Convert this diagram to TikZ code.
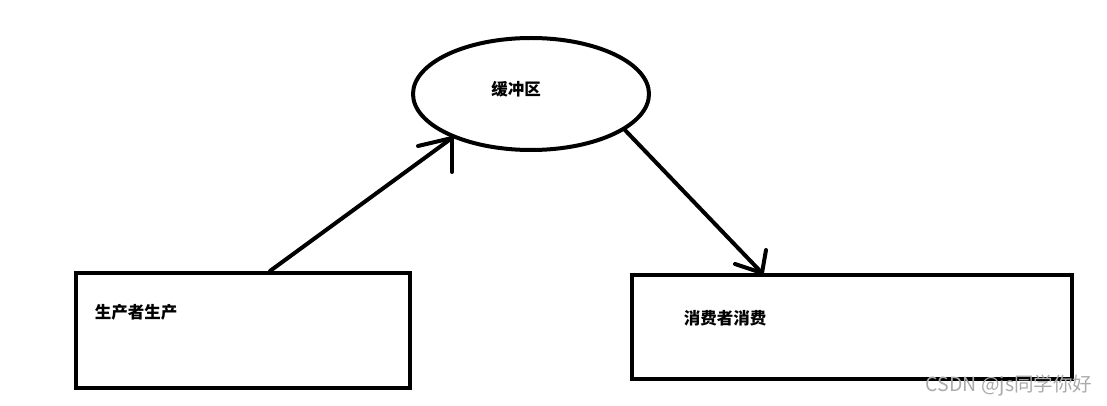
\documentclass[tikz,border=0pt]{standalone}
\usepackage{fontspec}
\usetikzlibrary{shapes.geometric}
\newfontfamily\cjk{Noto Sans CJK SC}
\definecolor{wmgray}{RGB}{170,170,170}
\begin{document}
\begin{tikzpicture}[x=1pt,y=-1pt,
  box/.style={draw=black,line width=4.5pt,rectangle,inner sep=0pt},
  oval/.style={draw=black,line width=4pt,ellipse,inner sep=0pt,minimum width=236pt,minimum height=112pt},
  lbl/.style={font=\cjk\bfseries\fontsize{16.5}{17}\selectfont,inner sep=0pt},
  conn/.style={draw=black,line width=4pt,line cap=round},
  wm/.style={font=\cjk\fontsize{19.5}{20}\selectfont,text=wmgray,inner sep=0pt}]
\useasboundingbox (0,0) rectangle (1107,406);
\node[oval] (buf) at (531,94) {};
\node[lbl] (buft) at (516,89) {缓冲区};
\node[box,minimum width=334pt,minimum height=115pt] (prod) at (243,330.5) {};
\node[lbl] (prodt) at (136,312) {生产者生产};
\node[box,minimum width=440pt,minimum height=104pt] (cons) at (852,327) {};
\node[lbl] (const) at (725,318) {消费者消费};
\node[wm] (mark) at (1009,386) {CSDN @js同学你好};
% producer -> buffer
\coordinate (s1) at (270,271);
\coordinate (t1) at (452,138);
\draw[conn] (s1) -- (t1);
\draw[conn] (t1) -- ++(-34,8);
\draw[conn] (t1) -- ++(0,34);
% buffer -> consumer
\coordinate (s2) at (buf.-21.5);
\coordinate (t2) at (762,273);
\draw[conn] (s2) -- (t2);
\draw[conn] (t2) -- ++(-27,-9);
\draw[conn] (t2) -- ++(4,-23);
\end{tikzpicture}
\end{document}
